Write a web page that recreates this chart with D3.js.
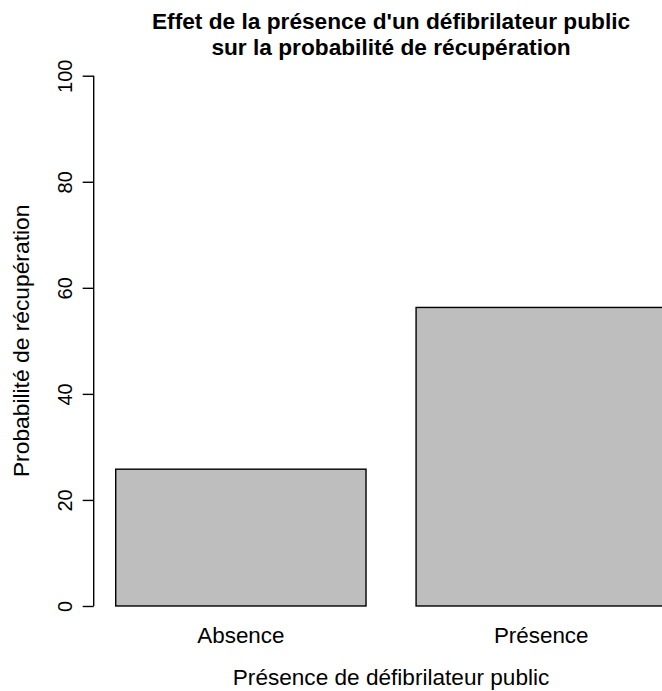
<!DOCTYPE html>
<html><head><meta charset="utf-8">
<script src="https://cdn.jsdelivr.net/npm/d3@7"></script>
<style>body{margin:0;background:#fff;} svg{display:block;}</style>
</head><body>
<script>
const categories = ["Absence", "Présence"];
const values = [25.8, 56.3];
const yTicks = [0, 20, 40, 60, 80, 100];
const titleLines = ["Effet de la présence d'un défibrilateur public", "sur la probabilité de récupération"];
const xTitle = "Présence de défibrilateur public";
const yTitle = "Probabilité de récupération";

const W = 662, H = 691;
const plotL = 93.7, plotR = 688.4, plotT = 54.5, plotB = 627.2;
const font = "'Liberation Sans', Arial, sans-serif";

const svg = d3.select("body").append("svg").attr("width", W).attr("height", H);

const xUnit = d3.scaleLinear().domain([0.112, 2.488]).range([plotL, plotR]);
const x = d3.scaleBand().domain(categories)
  .range([xUnit(0), xUnit(2.6)]).paddingInner(1/6).paddingOuter(1/6);
const y = d3.scaleLinear().domain([-4, 104]).range([plotB, plotT]);

svg.selectAll("rect.bar").data(values).enter().append("rect")
  .attr("class", "bar")
  .attr("x", (d, i) => x(categories[i]))
  .attr("width", x.bandwidth())
  .attr("y", d => y(d))
  .attr("height", d => y(0) - y(d))
  .attr("fill", "#bebebe").attr("stroke", "#000").attr("stroke-width", 1.4);

// y axis
const yAxis = d3.axisLeft(y).tickValues(yTicks).tickSize(11).tickSizeOuter(0).tickPadding(0);
const gy = svg.append("g").attr("transform", `translate(${plotL},0)`).call(yAxis);
gy.select(".domain").remove();
gy.selectAll(".tick line").attr("stroke", "#000").attr("stroke-width", 1.4);
gy.selectAll(".tick text").remove();
gy.append("line").attr("x1", 0).attr("x2", 0).attr("y1", y(0)).attr("y2", y(100))
  .attr("stroke", "#000").attr("stroke-width", 1.4);
gy.selectAll(".tick").append("text")
  .attr("transform", "translate(-21.5,0) rotate(-90)")
  .attr("text-anchor", "middle")
  .attr("font-family", font).attr("font-size", 20).attr("fill", "#000")
  .text(d => d);

// category labels
svg.selectAll("text.cat").data(categories).enter().append("text")
  .attr("class", "cat")
  .attr("x", d => x(d) + x.bandwidth() / 2)
  .attr("y", 643)
  .attr("text-anchor", "middle")
  .attr("font-family", font).attr("font-size", 22.4).attr("fill", "#000")
  .text(d => d);

// axis titles
const cx = (plotL + plotR) / 2, cy = (plotT + plotB) / 2;
svg.append("text").attr("x", cx).attr("y", 685)
  .attr("text-anchor", "middle").attr("font-family", font).attr("font-size", 22.6)
  .text(xTitle);
svg.append("text").attr("transform", `translate(29,${cy}) rotate(-90)`)
  .attr("text-anchor", "middle").attr("font-family", font).attr("font-size", 22.8)
  .text(yTitle);

// title
svg.selectAll("text.title").data(titleLines).enter().append("text")
  .attr("class", "title")
  .attr("x", cx).attr("y", (d, i) => 29 + i * 26)
  .attr("text-anchor", "middle").attr("font-family", font)
  .attr("font-size", 22.7).attr("font-weight", "bold")
  .text(d => d);
</script>
</body></html>
